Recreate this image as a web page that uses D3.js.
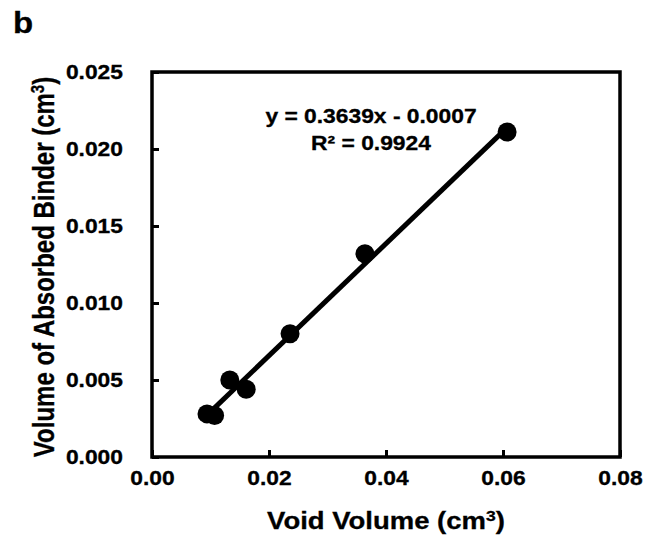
<!DOCTYPE html>
<html>
<head>
<meta charset="utf-8">
<script src="https://cdn.jsdelivr.net/npm/d3@7"></script>
<style>
  body { margin: 0; background: #fff; }
  text { font-family: "Liberation Sans", Arial, sans-serif; font-weight: bold; fill: #000; stroke: #000; stroke-width: 0.3px; }
</style>
</head>
<body>
<svg id="chart" width="647" height="540"></svg>
<script>
// data
const voidVolume = [0.0094, 0.0107, 0.0133, 0.0161, 0.0236, 0.0364, 0.0607];
const absorbedBinder = [0.0028, 0.0027, 0.0050, 0.0044, 0.0080, 0.0132, 0.0211];
const xTicks = [0, 0.02, 0.04, 0.06, 0.08];
const yTicks = [0, 0.005, 0.010, 0.015, 0.020, 0.025];
const slope = 0.3639;
const intercept = -0.0007;

// picture is a bit wider than tall, so text gets stretched sideways
const stretch = 1.17;

const svg = d3.select("#chart");
const margin = { left: 152, top: 72, right: 27, bottom: 83 };
const width = 647 - margin.left - margin.right;
const height = 540 - margin.top - margin.bottom;

const x = d3.scaleLinear().domain([0, 0.08]).range([0, width]);
const y = d3.scaleLinear().domain([0, 0.025]).range([height, 0]);

const g = svg.append("g").attr("transform", `translate(${margin.left},${margin.top})`);

// frame
g.append("rect")
  .attr("width", width).attr("height", height)
  .attr("fill", "none").attr("stroke", "#000").attr("stroke-width", 3.5);

// axes, ticks point inward
const xAxis = g.append("g")
  .attr("transform", `translate(0,${height})`)
  .call(d3.axisBottom(x).tickValues(xTicks).tickSize(-7).tickFormat(d3.format(".2f")));
const yAxis = g.append("g")
  .call(d3.axisLeft(y).tickValues(yTicks).tickSize(-7).tickFormat(d3.format(".3f")));

[xAxis, yAxis].forEach(function(a) {
  a.select(".domain").remove();
  a.selectAll("line").attr("stroke", "#000").attr("stroke-width", 3);
  a.selectAll("text").style("font-size", "19.5px").attr("fill", "#000");
});

xAxis.selectAll("text")
  .attr("y", 0).attr("dy", null)
  .attr("transform", `translate(0,28) scale(${stretch},1)`);

yAxis.selectAll("text")
  .attr("x", 0)
  .attr("transform", `translate(-29,0) scale(${stretch},1)`);

// trendline from min to max x
const xExt = d3.extent(voidVolume);
g.append("line")
  .attr("x1", x(xExt[0])).attr("y1", y(slope * xExt[0] + intercept))
  .attr("x2", x(xExt[1])).attr("y2", y(slope * xExt[1] + intercept))
  .attr("stroke", "#000").attr("stroke-width", 5);

// points
g.selectAll("circle")
  .data(voidVolume)
  .enter().append("circle")
  .attr("cx", function(d) { return x(d); })
  .attr("cy", function(d, i) { return y(absorbedBinder[i]); })
  .attr("r", 9.5)
  .attr("fill", "#000");

// equation
const eqX = 371;
svg.append("text")
  .attr("transform", `translate(${eqX},123) scale(${stretch},1)`)
  .attr("text-anchor", "middle")
  .style("font-size", "19.5px")
  .text("y = 0.3639x - 0.0007");
svg.append("text")
  .attr("transform", `translate(${eqX},150) scale(${stretch},1)`)
  .attr("text-anchor", "middle")
  .style("font-size", "19.5px")
  .text("R² = 0.9924");

// axis titles
svg.append("text")
  .attr("transform", `translate(${margin.left + width / 2},529) scale(${stretch},1)`)
  .attr("text-anchor", "middle")
  .style("font-size", "23.5px")
  .html('Void Volume (cm<tspan baseline-shift="super" font-size="15px">3</tspan>)');

svg.append("text")
  .attr("transform", `translate(54,267) rotate(-90) scale(1,1.22)`)
  .attr("text-anchor", "middle")
  .style("font-size", "24px")
  .html('Volume of Absorbed Binder (cm<tspan baseline-shift="super" font-size="15px">3</tspan>)');

// panel letter
svg.append("text")
  .attr("transform", `translate(13,33) scale(1.1,1)`)
  .style("font-size", "30px").text("b");
</script>
</body>
</html>
